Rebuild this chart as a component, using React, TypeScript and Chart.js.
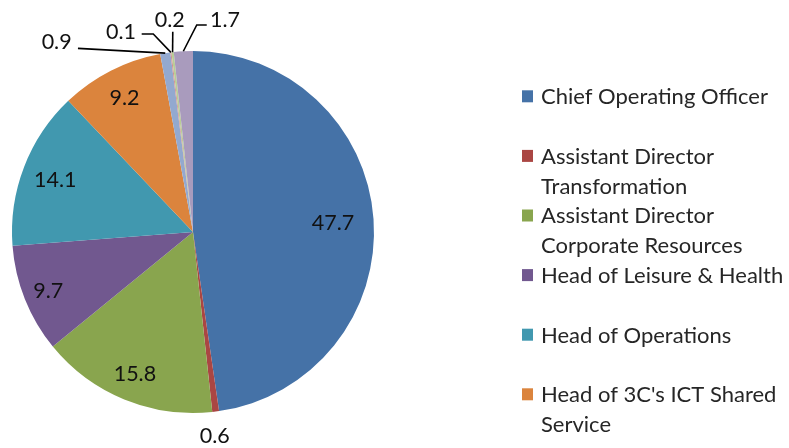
import { useEffect, useRef } from "react";
import { Chart, registerables } from "chart.js";

Chart.register(...registerables);

// ---- data ----
const categories: string[][] = [
  ["Chief Operating Officer"],
  ["Assistant Director", "Transformation"],
  ["Assistant Director", "Corporate Resources"],
  ["Head of Leisure & Health"],
  ["Head of Operations"],
  ["Head of 3C's ICT Shared", "Service"],
  ["Head of Finance"],
  ["Head of Legal Practice"],
  ["Head of Planning"],
  ["Head of Housing"],
];
const values: number[] = [47.7, 0.6, 15.8, 9.7, 14.1, 9.2, 0.9, 0.1, 0.2, 1.7];
const colors: string[] = [
  "#4572A7", "#AA4643", "#89A54E", "#71588F", "#4198AF",
  "#DB843D", "#93A9CF", "#D19392", "#B9CD96", "#A99BBD",
];

// ---- label styling (relative to each slice's own geometry) ----
type LabelStyle = { inside?: number; leader?: number[][]; text?: number[] };
const labelStyles: LabelStyle[] = [
  { inside: 0.776 },
  { leader: [], text: [-1, 24] },
  { inside: 0.845 },
  { inside: 0.861 },
  { inside: 0.815 },
  { inside: 0.833 },
  { leader: [[-87.3, -4.8]], text: [-21.3, -6.6] },
  { leader: [[-17.6, -18.4], [-29.2, -18.4]], text: [-20.7, -3] },
  { leader: [[0.2, -20.5]], text: [-3, -12] },
  { leader: [[13.4, -26.3], [23.4, -26.3]], text: [18.3, -5.3] },
];

const FONT_FAMILY = "Lato, 'Open Sans', sans-serif";
const LABEL_SIZE = 21.5;
const LEGEND_SIZE = 22;
const TEXT_COLOR = "#111111";
const LEGEND_COLOR = "#262626";
const CAP = 0.72;

const sliceLabels = {
  id: "sliceLabels",
  afterDatasetsDraw(chart: any) {
    const ctx = chart.ctx as CanvasRenderingContext2D;
    const meta = chart.getDatasetMeta(0);
    ctx.save();
    ctx.font = `${LABEL_SIZE}px ${FONT_FAMILY}`;
    ctx.fillStyle = TEXT_COLOR;
    ctx.textAlign = "center";
    ctx.textBaseline = "alphabetic";
    meta.data.forEach((arc: any, i: number) => {
      const p = arc.getProps(["x", "y", "startAngle", "endAngle", "outerRadius"], true);
      const mid = (p.startAngle + p.endAngle) / 2;
      const st = labelStyles[i] || {};
      const text = String(values[i]);
      let tx: number, ty: number;
      if (st.inside !== undefined) {
        tx = p.x + Math.cos(mid) * p.outerRadius * st.inside;
        ty = p.y + Math.sin(mid) * p.outerRadius * st.inside;
      } else {
        const ex = p.x + Math.cos(mid) * p.outerRadius;
        const ey = p.y + Math.sin(mid) * p.outerRadius;
        let lx = ex, ly = ey;
        const pts = st.leader || [];
        if (pts.length) {
          ctx.beginPath();
          ctx.strokeStyle = "#000000";
          ctx.lineWidth = 1.6;
          ctx.moveTo(ex, ey);
          pts.forEach((q) => {
            lx = ex + q[0];
            ly = ey + q[1];
            ctx.lineTo(lx, ly);
          });
          ctx.stroke();
        }
        const t = st.text || [0, 0];
        tx = lx + t[0];
        ty = ly + t[1];
      }
      ctx.fillText(text, tx, ty + (LABEL_SIZE * CAP) / 2);
    });
    ctx.restore();
  },
};

const sideLegend = {
  id: "sideLegend",
  afterDraw(chart: any) {
    const ctx = chart.ctx as CanvasRenderingContext2D;
    const labels = chart.data.labels as string[][];
    const bg = chart.data.datasets[0].backgroundColor as string[];
    const boxX = chart.chartArea.right + 148;
    const textX = boxX + 19;
    const firstY = chart.chartArea.top + 45.3;
    const step = 59.6;
    const lineH = 30;
    ctx.save();
    ctx.font = `${LEGEND_SIZE}px ${FONT_FAMILY}`;
    ctx.textAlign = "left";
    ctx.textBaseline = "alphabetic";
    labels.forEach((lines, i) => {
      const cy = firstY + i * step;
      const lastY = cy + (lines.length - 1) * lineH;
      if (lastY + 8 > chart.height) return;
      ctx.fillStyle = bg[i];
      ctx.fillRect(boxX, cy - 6, 11, 12);
      ctx.fillStyle = LEGEND_COLOR;
      lines.forEach((ln, k) => {
        ctx.fillText(ln, textX, cy + k * lineH + (LEGEND_SIZE * CAP) / 2);
      });
    });
    ctx.restore();
  },
};

export default function App() {
  const ref = useRef<HTMLCanvasElement | null>(null);
  useEffect(() => {
    document.body.style.margin = "0";
    if (!ref.current) return;
    const chart = new Chart(ref.current, {
      type: "pie",
      data: {
        labels: categories,
        datasets: [
          {
            data: values,
            backgroundColor: colors,
            borderWidth: 0,
          },
        ],
      },
      options: {
        responsive: false,
        animation: false,
        layout: { padding: { left: 12, top: 51, right: 415, bottom: 35 } },
        plugins: {
          legend: { display: false },
          tooltip: { enabled: true },
        },
      },
      plugins: [sliceLabels, sideLegend],
    });
    return () => chart.destroy();
  }, []);
  return (
    <div style={{ width: 789, height: 448, background: "#ffffff" }}>
      <canvas ref={ref} width={789} height={448} style={{ display: "block" }} />
    </div>
  );
}
